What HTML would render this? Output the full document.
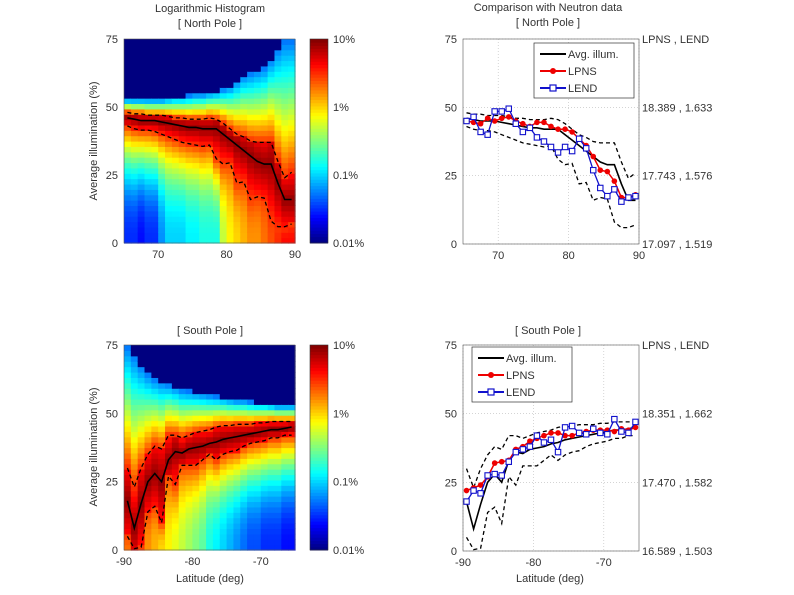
<!DOCTYPE html>
<html><head><meta charset="utf-8">
<style>
body{margin:0;background:#fff;width:794px;height:595px;overflow:hidden}
svg{display:block;font-family:"Liberation Sans",sans-serif}
text{fill:#333;font-size:11px}
</style></head>
<body>
<svg id="fig" width="794" height="595" viewBox="0 0 794 595" xmlns="http://www.w3.org/2000/svg"></svg>
<script>
// ---- North pole data (lat 65.5..89.5) ----
const northLat = [65.5,66.5,67.5,68.5,69.5,70.5,71.5,72.5,73.5,74.5,75.5,76.5,77.5,78.5,79.5,80.5,81.5,82.5,83.5,84.5,85.5,86.5,87.5,88.5,89.5];
const northMean = [46,45.5,45,45,45,44.5,44,43.5,43,42.5,42.5,42,42,42,40,38,36,34,32,30,29,29,22,16,16];
const northUpper = [48,47.5,47.5,47,47,47,46.5,46,46,45.5,45.5,45.5,46,45.5,44,42,40,39,37.5,37,37,37,30,24,26];
const northLower = [43,42,41.5,41.5,41,40,39,38,37,36.5,36,35.5,36,31,29,29.5,22,22.5,16,17,16.5,8,6,6,7];
const northTop = [53,53,53,53,53,53,53.5,54,54,54.5,55,55,55.5,56,57,58,60,62,63,64,65,68,72,75,75];
const northFloor = [-1.5,-1.5,-1.6,-1.5,-1.5,-1.2,-1.0,-1.0,-1.0,-0.9,-0.9,-0.8,-0.8,-0.8,-0.3,-0.1,0,0.1,0.2,0.2,0.3,0.4,0.5,0.6,0.6];
const northLPNS = [45,44.5,44,46,45,46,46.5,45,44,43,44.5,44.5,43,42,42,41,38.5,36,32,27,26.5,23,17,17,18];
const northLEND = [45,46.5,41,40,48.5,48.5,49.5,44,41,42.5,39,37.5,35.5,33.5,35.5,34,38.5,35,27,20.5,17.5,20,15.5,17,17.5];
const northRight = ["17.097 , 1.519","17.743 , 1.576","18.389 , 1.633"];
// ---- South pole data (lat -89.5..-65.5) ----
const southLat = [-89.5,-88.5,-87.5,-86.5,-85.5,-84.5,-83.5,-82.5,-81.5,-80.5,-79.5,-78.5,-77.5,-76.5,-75.5,-74.5,-73.5,-72.5,-71.5,-70.5,-69.5,-68.5,-67.5,-66.5,-65.5];
const southMean = [18,8,17,25,28,25,33,36,35.5,37,37.5,38,39,39.5,40.5,41,41.5,42,42.5,43,43.5,44,44,44.5,45];
const southUpper = [30,23,30,35,38,37,42,42,41,42,43,43.5,44,45,45.5,45.5,46,46,46,46.5,46.5,47,47,47,47];
const southLower = [5,0.5,1,14,16,10,27,24,31,31,31,33,35,33,35,36,36.5,38,39,39.5,40,41,41,42,42];
const southTop = [75,72,68,65,63,62,61,60,59,58.5,58,57.5,57,56.5,56,55.5,55,55,54.5,54,54,53.5,53,53,53];
const southFloor = [0.3,0.3,0.3,0.2,0.1,0,-0.1,-0.2,-0.3,-0.4,-0.5,-0.6,-0.8,-0.9,-1,-1.1,-1.2,-1.3,-1.4,-1.4,-1.5,-1.5,-1.5,-1.6,-1.6];
const southLPNS = [22,23,24,27,32,32.5,33,37,38,40,41,42,43,43,42,42,43,43.5,44,44,44,43.5,44.5,44,45];
const southLEND = [18,22,21,27.5,28,27.5,32.5,36,37,38,42,39.5,40.5,36,45,45.5,43,42.5,44.5,43,42.5,48,43.5,43,47];
const southRight = ["16.589 , 1.503","17.470 , 1.582","18.351 , 1.662"];
const yTicks = [0,25,50,75];
const cbTicks = ["0.01%","0.1%","1%","10%"];

const NS="http://www.w3.org/2000/svg";
const svg=document.getElementById('fig');
function el(tag,attrs,parent){const e=document.createElementNS(NS,tag);for(const k in attrs)e.setAttribute(k,attrs[k]);(parent||svg).appendChild(e);return e;}
function txt(x,y,s,anchor,parent,extra){const t=el('text',Object.assign({x:x,y:y,'text-anchor':anchor||'middle'},extra||{}),parent);t.textContent=s;return t;}
function jet(v){v=Math.max(0,Math.min(1,v));
 const r=Math.max(0,Math.min(1,1.5-Math.abs(4*v-3))),g=Math.max(0,Math.min(1,1.5-Math.abs(4*v-2))),b=Math.max(0,Math.min(1,1.5-Math.abs(4*v-1)));
 return `rgb(${Math.round(r*255)},${Math.round(g*255)},${Math.round(b*255)})`;}

function heatmap(P){
 const g=el('g',{});
 
 
 const X=l=>P.x0+(l-P.lmin)/25*(P.x1-P.x0), Y=v=>P.y1-v/75*(P.y1-P.y0);
 const cw=(P.x1-P.x0)/25, rows=38, rh=75/rows;
 for(let i=0;i<P.lat.length;i++){
  for(let r=0;r<rows;r++){
   const y=(r+0.5)*rh;let v;
   if(y>P.top[i]) v=-2.3;
   else if(y>P.up[i]) {const f=(y-P.up[i])/Math.max(1,P.top[i]-P.up[i]);v=0.5-f*1.8;}
   else if(y>=P.lo[i]) v=0.95-0.35*Math.abs(y-P.mean[i])/Math.max(1,(P.up[i]-P.lo[i])/2);
   else {const f=y/Math.max(1,P.lo[i]);v=P.floor[i]+Math.pow(f,2.2)*(0.45-P.floor[i]);}
   const c=el('rect',{x:(X(P.lat[i])-cw/2).toFixed(2),y:Y((r+1)*rh).toFixed(2),width:(cw+0.6).toFixed(2),height:((P.y1-P.y0)/rows+0.6).toFixed(2),fill:jet((v+2)/3)},g);
   
   
  }
 }
 lines(P,g,X,Y,false);
 axes(P,X,Y);
 const cb=el('g',{});
 
 
 const n=64,h=(P.y1-P.y0)/n;
 for(let k=0;k<n;k++) el('rect',{x:310,y:(P.y1-(k+1)*h).toFixed(2),width:18,height:(h+0.5).toFixed(2),fill:jet((k+0.5)/n)},cb);
 el('rect',{x:310,y:P.y0,width:18,height:P.y1-P.y0,fill:'none',stroke:'#333','stroke-width':0.6},cb);
 cbTicks.forEach((s,k)=>{const yy=P.y1-k/3*(P.y1-P.y0);const t=txt(333,yy+4,s,'start',cb);});
}
function lines(P,g,X,Y){
 const pts=a=>a.map((v,i)=>X(P.lat[i]).toFixed(1)+','+Y(v).toFixed(1)).join(' ');
 const m=el('polyline',{points:pts(P.mean),fill:'none',stroke:'#000','stroke-width':1.6},g);
 
 const u=el('polyline',{points:pts(P.up),fill:'none',stroke:'#000','stroke-width':1.3,'stroke-dasharray':'4,3'},g);
 
 const l=el('polyline',{points:pts(P.lo),fill:'none',stroke:'#000','stroke-width':1.3,'stroke-dasharray':'4,3'},g);
 
}
function axes(P,X,Y){
 el('rect',{x:P.x0,y:P.y0,width:P.x1-P.x0,height:P.y1-P.y0,fill:'none',stroke:'#555','stroke-width':0.6});
 yTicks.forEach(v=>{const t=txt(P.x0-6,Y(v)+4,String(v),'end');});
 P.xt.forEach(v=>{const t=txt(X(v),P.y1+15,String(v),'middle');});
}
function lineChart(P){
 const g=el('g',{});
 
 
 const X=l=>P.x0+(l-P.lmin)/25*(P.x1-P.x0), Y=v=>P.y1-v/75*(P.y1-P.y0);
 P.xt.forEach(v=>el('line',{x1:X(v),x2:X(v),y1:P.y0,y2:P.y1,stroke:'#bbb','stroke-width':0.6,'stroke-dasharray':'1,2'},g));
 yTicks.forEach(v=>el('line',{x1:P.x0,x2:P.x1,y1:Y(v),y2:Y(v),stroke:'#bbb','stroke-width':0.6,'stroke-dasharray':'1,2'},g));
 lines(P,g,X,Y);
 const pts=a=>a.map((v,i)=>X(P.lat[i]).toFixed(1)+','+Y(v).toFixed(1)).join(' ');
 const lr=el('polyline',{points:pts(P.lpns),fill:'none',stroke:'#e00','stroke-width':1.5},g);
 
 P.lpns.forEach((v,i)=>{const c=el('circle',{cx:X(P.lat[i]),cy:Y(v),r:2.8,fill:'#e00'},g);});
 const lb=el('polyline',{points:pts(P.lend),fill:'none',stroke:'#11c','stroke-width':1.3},g);
 
 P.lend.forEach((v,i)=>{const c=el('rect',{x:X(P.lat[i])-2.7,y:Y(v)-2.7,width:5.4,height:5.4,fill:'#fff',stroke:'#11c','stroke-width':1.1},g);});
 axes(P,X,Y);
 const rt=txt(P.x1+3,P.y0+4,'LPNS , LEND','start');
 P.right.forEach((s,k)=>{const t=txt(P.x1+3,Y(k*25)+4,s,'start');});
 const L=P.leg;const lg=el('g',{});
 
 el('rect',{x:L[0],y:L[1],width:100,height:55,fill:'#fff',stroke:'#333','stroke-width':0.7},lg);
 const items=[['Avg. illum.','#000',0],['LPNS','#e00',1],['LEND','#11c',2]];
 items.forEach(([s,c,k])=>{const yy=L[1]+11+k*17;
  const e=el('g',{},lg);
  el('line',{x1:L[0]+6,x2:L[0]+32,y1:yy,y2:yy,stroke:c,'stroke-width':2},e);
  if(k==1)el('circle',{cx:L[0]+19,cy:yy,r:3,fill:c},e);
  if(k==2)el('rect',{x:L[0]+16,y:yy-3,width:6,height:6,fill:'#fff',stroke:c,'stroke-width':1.2},e);
  txt(L[0]+34,yy+4,s,'start',e);});
}
function ylabel(cy){const t=txt(0,0,'Average illumination (%)','middle',null,{transform:`translate(97,${cy}) rotate(-90)`});}
function title(x,y,s,n){const t=txt(x,y,s,'middle');}

heatmap({name:'north',x0:124,x1:295,y0:39,y1:243,lmin:65,lat:northLat,mean:northMean,up:northUpper,lo:northLower,top:northTop,floor:northFloor,xt:[70,80,90]});
heatmap({name:'south',x0:124,x1:295,y0:345,y1:550,lmin:-90,lat:southLat,mean:southMean,up:southUpper,lo:southLower,top:southTop,floor:southFloor,xt:[-90,-80,-70]});
lineChart({name:'north',x0:463,x1:639,y0:39,y1:244,lmin:65,lat:northLat,mean:northMean,up:northUpper,lo:northLower,lpns:northLPNS,lend:northLEND,right:northRight,xt:[70,80,90],leg:[534,43]});
lineChart({name:'south',x0:463,x1:639,y0:345,y1:551,lmin:-90,lat:southLat,mean:southMean,up:southUpper,lo:southLower,lpns:southLPNS,lend:southLEND,right:southRight,xt:[-90,-80,-70],leg:[472,347]});
title(210,12,'Logarithmic Histogram','left-title');
title(210,27,'[ North Pole ]','left-subtitle-north');
title(548,11,'Comparison with Neutron data','right-title');
title(548,26,'[ North Pole ]','right-subtitle-north');
title(210,334,'[ South Pole ]','left-subtitle-south');
title(548,334,'[ South Pole ]','right-subtitle-south');
ylabel(141);ylabel(447);
const x1=txt(210,582,'Latitude (deg)');
const x2=txt(550,582,'Latitude (deg)');
</script>
</body></html>
